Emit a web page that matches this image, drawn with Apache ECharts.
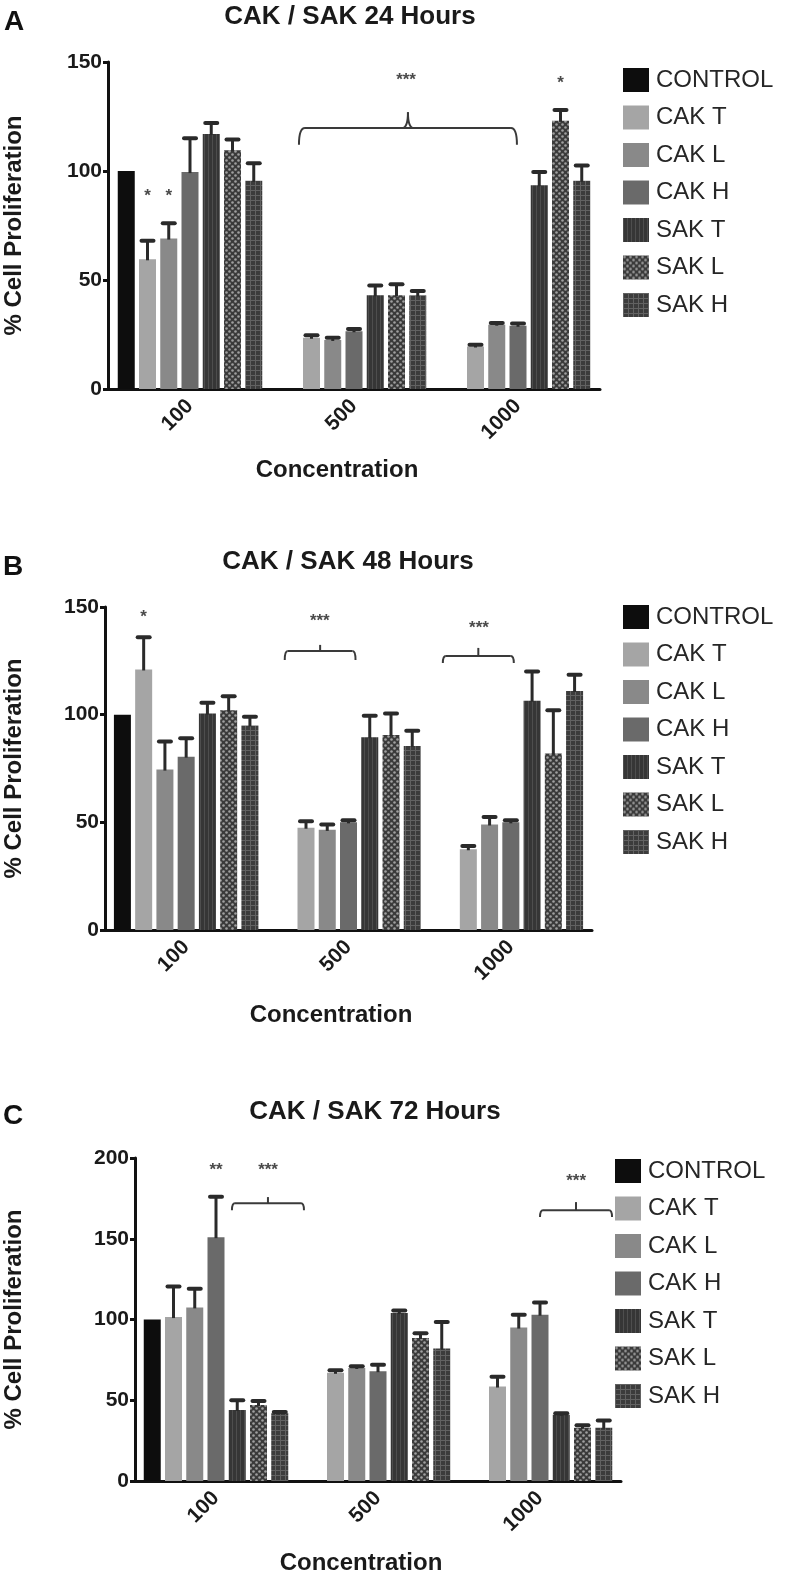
<!DOCTYPE html>
<html>
<head>
<meta charset="utf-8">
<script src="https://cdn.jsdelivr.net/npm/echarts@6/dist/echarts.min.js"></script>
<style>
html,body{margin:0;padding:0;background:#fff;}
#chart{width:787px;height:1576px;}
</style>
</head>
<body>
<div id="chart"></div>
<script>
// ---------------- DATA ----------------
const categories = ['100', '500', '1000'];
const seriesNames = ['CONTROL', 'CAK T', 'CAK L', 'CAK H', 'SAK T', 'SAK L', 'SAK H'];
const panelTitles = ['CAK / SAK 24 Hours', 'CAK / SAK 48 Hours', 'CAK / SAK 72 Hours'];
const panelLetters = ['A', 'B', 'C'];
const yAxisMax = [150, 150, 200];
const yAxisName = '% Cell Proliferation';
const xAxisName = 'Concentration';

// means: rows = series (CONTROL..SAK H), columns = categories (100, 500, 1000)
const mean24 = [
  [100, null, null],
  [59.5, 23.5, 19.5],
  [69, 22.5, 29.5],
  [99.5, 26.5, 29],
  [117, 43, 93.5],
  [109.5, 43, 123],
  [95.5, 43, 95.5]
];
const err24 = [
  [0, 0, 0],
  [8.5, 1.2, 0.8],
  [7, 1, 0.8],
  [15.5, 1, 1],
  [5, 4.5, 6],
  [5, 5, 5],
  [8, 2, 7]
];
const mean48 = [
  [100, null, null],
  [121, 47.5, 37.5],
  [74.5, 46.5, 49],
  [80.5, 50, 50],
  [100.5, 89.5, 106.5],
  [102, 90.5, 82],
  [95, 85.5, 111]
];
const err48 = [
  [0, 0, 0],
  [15, 3, 1.5],
  [13, 2.5, 3.5],
  [8.5, 1, 1],
  [5, 10, 13.5],
  [6.5, 10, 20],
  [4, 7, 7.5]
];
const mean72 = [
  [100, null, null],
  [101.5, 67, 58.5],
  [107.5, 70, 95],
  [151, 68, 103],
  [44, 104, 41],
  [47, 88.5, 33],
  [42, 82, 33]
];
const err72 = [
  [0, 0, 0],
  [19, 1.5, 6],
  [11.5, 1, 8],
  [25, 4, 7.5],
  [6, 1.5, 1],
  [2.5, 3, 1.5],
  [0.8, 16.5, 4.5]
];

// significance marks: [category index, bar slot, value level]
const stars24 = [[0, 1, 90], [0, 2, 90], [2, 5, 142], [1, 5.45, 143]];
const starLabels24 = ['*', '*', '*', '***'];
const stars48 = [[0, 1, 147], [1, 1.65, 145], [2, 1.5, 141.7]];
const starLabels48 = ['*', '***', '***'];
const stars72 = [[0, 3, 194.4], [0, 5.45, 194.4], [2, 4.7, 188]];
const starLabels72 = ['**', '***', '***'];

// brackets: [cat start, slot start, cat end, slot end, level, end-drop level, peak level]
const brackets24 = [[1, 0.41, 2, 2.95, 119.7, 112, 127]];
const brackets48 = [[1, 0, 1, 3.33, 129.6, 125.4, 132.4], [2, -0.2, 2, 3.14, 127.3, 124, 131]];
const brackets72 = [[0, 3.75, 0, 7.14, 172, 167.7, 175.8], [2, 3.0, 2, 6.39, 167.7, 163.4, 172.7]];

const means = [mean24, mean48, mean72];
const errs = [err24, err48, err72];
const starsAll = [stars24, stars48, stars72];
const starLabelsAll = [starLabels24, starLabels48, starLabels72];
const bracketsAll = [brackets24, brackets48, brackets72];

// ---------------- STYLE / LAYOUT ----------------
const FONT = '"Liberation Sans", Arial, Helvetica, sans-serif';
const BAR_W = 17;
const BAR_GAP = 0.25;
const SLOT = BAR_W * (1 + BAR_GAP);
const grids = [
  {left: 108, top: 62, width: 492, height: 327},
  {left: 105, top: 607, width: 487, height: 323},
  {left: 135, top: 1158, width: 486, height: 323}
];
const legendPos = [
  {left: 623, top: 68},
  {left: 623, top: 605},
  {left: 615, top: 1159}
];
const titlePos = [[350, 17], [348, 562], [375, 1112]];
const letterPos = [[14, 22], [13, 567], [13, 1116]];
const xNamePos = [[337, 470], [331, 1015], [361, 1563]];

function makePattern(type) {
  const c = document.createElement('canvas');
  const ctx = c.getContext('2d');
  if (type === 'vstripe') {
    c.width = 4; c.height = 4;
    ctx.fillStyle = '#363636'; ctx.fillRect(0, 0, 4, 4);
    ctx.fillStyle = '#4e4e4e'; ctx.fillRect(0, 0, 1, 4);
  } else if (type === 'check') {
    c.width = 6; c.height = 6;
    ctx.fillStyle = '#3a3a3a'; ctx.fillRect(0, 0, 6, 6);
    ctx.fillStyle = '#a0a0a0';
    ctx.beginPath(); ctx.arc(1.5, 1.5, 1.3, 0, Math.PI * 2); ctx.fill();
    ctx.beginPath(); ctx.arc(4.5, 4.5, 1.3, 0, Math.PI * 2); ctx.fill();
  } else {
    c.width = 5; c.height = 5;
    ctx.fillStyle = '#3c3c3c'; ctx.fillRect(0, 0, 5, 5);
    ctx.fillStyle = '#626262'; ctx.fillRect(0, 0, 5, 1); ctx.fillRect(0, 0, 1, 5);
  }
  return {image: c, repeat: 'repeat'};
}
const seriesColors = ['#0d0d0d', '#a5a5a5', '#898989', '#6a6a6a',
  makePattern('vstripe'), makePattern('check'), makePattern('grid')];

// ---------------- BUILD ----------------
const option = {
  animation: false,
  backgroundColor: '#ffffff',
  grid: [], xAxis: [], yAxis: [], legend: [], series: [], graphic: []
};

for (let p = 0; p < 3; p++) {
  const g = grids[p];
  option.grid.push(Object.assign({containLabel: false}, g));
  option.xAxis.push({
    type: 'category', gridIndex: p, data: categories,
    axisLine: {lineStyle: {color: '#111', width: 3}},
    axisTick: {alignWithLabel: true, length: 7, lineStyle: {color: '#111', width: 3}},
    axisLabel: {rotate: 45, margin: 14, color: '#1a1a1a', fontFamily: FONT, fontWeight: 'bold', fontSize: 21}
  });
  option.yAxis.push({
    type: 'value', gridIndex: p, min: 0, max: yAxisMax[p], interval: 50,
    splitLine: {show: false},
    axisLine: {show: true, lineStyle: {color: '#111', width: 3}},
    axisTick: {show: true, length: 5, lineStyle: {color: '#111', width: 3}},
    axisLabel: {margin: 6, color: '#1a1a1a', fontFamily: FONT, fontWeight: 'bold', fontSize: 21}
  });
  option.legend.push({
    data: seriesNames, orient: 'vertical', left: legendPos[p].left, top: legendPos[p].top,
    padding: 0, itemWidth: 26, itemHeight: 24, itemGap: 13.5, icon: 'rect', selectedMode: false,
    textStyle: {fontFamily: FONT, fontSize: 24, color: '#262626', padding: [0, 0, 0, 2]}
  });
  for (let s = 0; s < seriesNames.length; s++) {
    option.series.push({
      type: 'bar', name: seriesNames[s], xAxisIndex: p, yAxisIndex: p,
      data: means[p][s], barWidth: BAR_W, barGap: (BAR_GAP * 100) + '%',
      itemStyle: {color: seriesColors[s]},
      emphasis: {disabled: true}
    });
  }
  // error bars
  const errData = [];
  for (let s = 0; s < seriesNames.length; s++) {
    for (let c = 0; c < categories.length; c++) {
      const m = means[p][s][c], e = errs[p][s][c];
      if (m !== null && e > 0) errData.push([c, s, m, e]);
    }
  }
  option.series.push({
    type: 'custom', name: 'err' + p, xAxisIndex: p, yAxisIndex: p, z: 5, clip: false,
    encode: {x: 0, y: 2}, data: errData, silent: true,
    renderItem: function (params, api) {
      const c = api.value(0), s = api.value(1), m = api.value(2), e = api.value(3);
      const b = api.coord([c, m]);
      const t = api.coord([c, m + e]);
      const x = b[0] + (s - 3) * SLOT;
      return {type: 'group', children: [
        {type: 'line', shape: {x1: x, y1: b[1] + 1, x2: x, y2: t[1]}, style: {stroke: '#2a2a2a', lineWidth: 3}},
        {type: 'line', shape: {x1: x - 6, y1: t[1], x2: x + 6, y2: t[1]}, style: {stroke: '#2a2a2a', lineWidth: 4, lineCap: 'round'}}
      ]};
    }
  });
  // brackets
  const curly = (p === 0);
  option.series.push({
    type: 'custom', name: 'br' + p, xAxisIndex: p, yAxisIndex: p, z: 5, clip: false, silent: true,
    encode: {x: 0, y: 4}, data: bracketsAll[p],
    renderItem: function (params, api) {
      const c1 = api.value(0), s1 = api.value(1), c2 = api.value(2), s2 = api.value(3);
      const lv = api.value(4), dr = api.value(5), pk = api.value(6);
      const x1 = api.coord([c1, lv])[0] + (s1 - 3) * SLOT;
      const x2 = api.coord([c2, lv])[0] + (s2 - 3) * SLOT;
      const yl = api.coord([c1, lv])[1], yd = api.coord([c1, dr])[1], yp = api.coord([c1, pk])[1];
      const xm = (x1 + x2) / 2;
      const st = {stroke: '#3a3a3a', lineWidth: 2, fill: null};
      const r = curly ? 6 : 3;
      const ch = [
        {type: 'bezierCurve', shape: {x1: x1, y1: yd, x2: x1 + r, y2: yl, cpx1: x1, cpy1: yl}, style: st},
        {type: 'line', shape: {x1: x1 + r, y1: yl, x2: x2 - r, y2: yl}, style: st},
        {type: 'bezierCurve', shape: {x1: x2 - r, y1: yl, x2: x2, y2: yd, cpx1: x2, cpy1: yl}, style: st}
      ];
      if (curly) {
        ch.push({type: 'bezierCurve', shape: {x1: xm - 6, y1: yl, x2: xm, y2: yp, cpx1: xm, cpy1: yl}, style: st});
        ch.push({type: 'bezierCurve', shape: {x1: xm, y1: yp, x2: xm + 6, y2: yl, cpx1: xm, cpy1: yl}, style: st});
      } else {
        ch.push({type: 'line', shape: {x1: xm, y1: yl, x2: xm, y2: yp}, style: st});
      }
      return {type: 'group', children: ch};
    }
  });
  // significance stars
  const labels = starLabelsAll[p];
  option.series.push({
    type: 'custom', name: 'st' + p, xAxisIndex: p, yAxisIndex: p, z: 5, clip: false, silent: true,
    encode: {x: 0, y: 2}, data: starsAll[p],
    renderItem: function (params, api) {
      const c = api.value(0), s = api.value(1), v = api.value(2);
      const pt = api.coord([c, v]);
      const x = pt[0] + (s - 3) * SLOT;
      return {type: 'text', style: {text: labels[params.dataIndex], x: x, y: pt[1] - 5,
        textAlign: 'center', textVerticalAlign: 'top', fill: '#4a4a4a',
        font: 'bold 17px ' + FONT}};
    }
  });
  // texts
  option.graphic.push({type: 'text', x: titlePos[p][0], y: titlePos[p][1],
    style: {text: panelTitles[p], textAlign: 'center', textVerticalAlign: 'middle',
      font: 'bold 26px ' + FONT, fill: '#1a1a1a'}});
  option.graphic.push({type: 'text', x: letterPos[p][0], y: letterPos[p][1],
    style: {text: panelLetters[p], textAlign: 'center', textVerticalAlign: 'middle',
      font: 'bold 28px ' + FONT, fill: '#111'}});
  option.graphic.push({type: 'text', x: 14, y: g.top + g.height / 2, rotation: Math.PI / 2,
    style: {text: yAxisName, textAlign: 'center', textVerticalAlign: 'middle',
      font: 'bold 24px ' + FONT, fill: '#1a1a1a'}});
  option.graphic.push({type: 'text', x: xNamePos[p][0], y: xNamePos[p][1],
    style: {text: xAxisName, textAlign: 'center', textVerticalAlign: 'middle',
      font: 'bold 24px ' + FONT, fill: '#1a1a1a'}});
}

const chart = echarts.init(document.getElementById('chart'), null, {renderer: 'canvas'});
chart.setOption(option);
</script>
</body>
</html>
